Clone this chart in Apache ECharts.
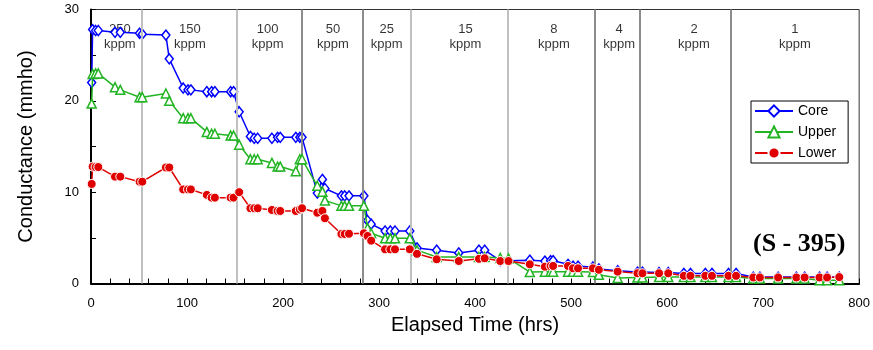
<!DOCTYPE html>
<html>
<head>
<meta charset="utf-8">
<script src="https://cdn.jsdelivr.net/npm/echarts@6/dist/echarts.min.js"></script>
<style>
  html, body { margin: 0; padding: 0; background: #fff; }
  #chart { width: 873px; height: 350px; }
</style>
</head>
<body>
<div id="chart"></div>
<script>
// sampling times shared by the three probes (hrs)
const hours = [0.7, 1.7, 4.8, 7.6, 25, 30.5, 50.6, 53.4, 78, 81.5,
    96, 101, 104, 120.6, 125.6, 129, 145.4, 148.5, 154.3, 166,
    170, 173.6, 188.4, 194.3, 197.1, 213.3, 217.5, 219.8, 235.7, 241,
    243.6, 260.8, 264.2, 268.7, 284.2, 288, 291.8, 306.3, 311.8, 316.6,
    332, 339.5, 360, 383, 404, 410, 426.2, 434.8, 457, 472.7,
    478.6, 481.3, 496.8, 502, 507.2, 522.7, 528.9, 548.5, 569.1, 574.3,
    591.6, 601.2, 617.4, 624.3, 639.8, 646.7, 663.9, 671.8, 689.7, 696.6,
    715.6, 734.6, 743.2, 758.7, 766.6, 779.3];

const core = [22.0, 27.8, 27.7, 27.7, 27.5, 27.5, 27.4, 27.3, 27.2, 24.6,
    21.4, 21.2, 21.2, 21.0, 21.0, 21.0, 21.0, 21.0, 18.8, 16.1,
    15.9, 15.9, 15.9, 16.0, 16.0, 16.0, 16.0, 16.0, 9.9, 11.4,
    10.4, 9.6, 9.6, 9.6, 9.6, 6.9, 6.5, 5.75, 5.75, 5.75,
    5.75, 3.9, 3.65, 3.35, 3.65, 3.65, 2.5, 2.5, 2.55, 2.45,
    2.5, 2.5, 2.1, 1.9, 1.9, 1.8, 1.6, 1.4, 1.25, 1.25,
    1.2, 1.2, 1.1, 1.1, 1.1, 1.1, 1.1, 1.1, 0.7, 0.7,
    0.7, 0.7, 0.7, 0.7, 0.7, 0.7];

const upper = [19.7, 22.95, 23.0, 23.0, 21.5, 21.2, 20.4, 20.4, 20.8, 20.0,
    18.1, 18.1, 18.1, 16.6, 16.4, 16.4, 16.2, 16.2, 15.2, 13.6,
    13.6, 13.6, 13.2, 12.8, 12.8, 12.3, 13.6, 13.6, 10.7, 10.05,
    9.1, 8.5, 8.5, 8.5, 8.5, 6.05, 5.5, 4.95, 4.95, 4.95,
    4.95, 3.65, 2.9, 2.9, 2.9, 2.9, 2.8, 2.75, 1.25, 1.3,
    1.3, 1.3, 1.3, 1.3, 1.3, 1.25, 0.95, 0.6, 0.65, 0.65,
    0.7, 0.7, 0.7, 0.7, 0.7, 0.7, 0.7, 0.7, 0.55, 0.55,
    0.55, 0.55, 0.55, 0.35, 0.35, 0.35];

const lower = [10.9, 12.8, 12.75, 12.75, 11.7, 11.7, 11.15, 11.15, 12.7, 12.7,
    10.3, 10.3, 10.3, 9.7, 9.4, 9.4, 9.4, 9.4, 10.0, 8.24,
    8.24, 8.24, 8.05, 7.94, 7.94, 7.94, 8.1, 8.24, 7.75, 7.94,
    7.14, 5.42, 5.42, 5.45, 5.5, 5.2, 4.69, 3.74, 3.74, 3.74,
    3.74, 3.25, 2.65, 2.46, 2.7, 2.76, 2.46, 2.46, 2.1, 1.84,
    1.92, 1.92, 1.92, 1.66, 1.66, 1.66, 1.5, 1.3, 1.12, 1.12,
    1.12, 1.12, 0.84, 0.84, 0.84, 0.84, 0.84, 0.84, 0.66, 0.66,
    0.66, 0.66, 0.66, 0.66, 0.66, 0.7];

// concentration step changes (hrs) and the labels of each stage
const stepHours = [53, 152, 220, 283, 333, 434, 525, 571, 666];
const stepDark = [false, false, true, true, false, false, true, true, true];
const stageLabels = ['250', '150', '100', '50', '25', '15', '8', '4', '2', '1'];
const stageLabelHours = [30, 103, 184, 252, 308, 390, 482, 550, 628, 733];

const pairs = vals => hours.map((h, i) => [h, vals[i]]);

const chart = echarts.init(document.getElementById('chart'));
const font = 'Liberation Sans, Arial, sans-serif';

const option = {
    animation: false,
    backgroundColor: '#fff',
    textStyle: { fontFamily: font },
    grid: {
        left: 91, right: 9, top: 9.5, bottom: 66.5,
        show: true, borderColor: '#333', borderWidth: 1
    },
    legend: {
        data: ['Core', 'Upper', 'Lower'],
        orient: 'vertical',
        left: 751, top: 101,
        itemWidth: 38, itemHeight: 14, itemGap: 7,
        padding: [3, 12, 3, 3],
        backgroundColor: '#fff',
        borderColor: '#000', borderWidth: 1,
        textStyle: { fontSize: 14, color: '#000', fontFamily: font }
    },
    xAxis: {
        type: 'value', min: 0, max: 800, interval: 100,
        name: 'Elapsed Time (hrs)', nameLocation: 'middle', nameGap: 32,
        nameTextStyle: { fontSize: 20, color: '#000', fontFamily: font },
        axisLine: { lineStyle: { color: '#000', width: 2 } },
        axisTick: { inside: true, length: 5, lineStyle: { color: '#000' } },
        minorTick: { show: true, splitNumber: 5, length: 5, lineStyle: { color: '#000' } },
        splitLine: { show: false },
        axisLabel: { fontSize: 13, color: '#000', margin: 13 }
    },
    yAxis: {
        type: 'value', min: 0, max: 30, interval: 10,
        name: 'Conductance (mmho)', nameLocation: 'middle', nameGap: 55,
        nameTextStyle: { fontSize: 20, color: '#000', fontFamily: font },
        axisLine: { show: true, lineStyle: { color: '#000', width: 2 } },
        axisTick: { show: true, inside: true, length: 5, lineStyle: { color: '#000' } },
        minorTick: { show: true, splitNumber: 2, length: 5, lineStyle: { color: '#000' } },
        splitLine: { show: false },
        axisLabel: { fontSize: 13, color: '#000', margin: 12 }
    },
    graphic: [{
        type: 'text', left: 753, top: 231, z: 100,
        style: { text: '(S - 395)', font: 'bold 26px "Liberation Serif", "Times New Roman", serif', fill: '#000' }
    }],
    series: [
        {
            name: 'steps', type: 'line', data: [], z: 1, silent: true,
            markLine: {
                silent: true, symbol: ['none', 'none'], label: { show: false },
                data: stepHours.map((h, i) => ({
                    xAxis: h,
                    lineStyle: { color: stepDark[i] ? '#8c8c8c' : '#c0c0c0', width: 2, type: 'solid' }
                }))
            }
        },
        {
            name: 'stages', type: 'scatter', z: 3, silent: true, symbolSize: 0,
            data: stageLabelHours.map((h, i) => [h, 27.05, stageLabels[i]]),
            label: {
                show: true, position: 'inside', color: '#000', fontSize: 13, lineHeight: 15,
                formatter: p => p.data[2] + '\nkppm'
            }
        },
        {
            name: 'Core', type: 'line', z: 4, data: pairs(core),
            symbol: 'diamond', symbolSize: [8, 10],
            lineStyle: { color: '#0000ff', width: 1.5 },
            itemStyle: { color: '#fff', borderColor: '#0000ff', borderWidth: 1.5 }
        },
        {
            name: 'Upper', type: 'line', z: 5, data: pairs(upper),
            symbol: 'triangle', symbolSize: 9,
            lineStyle: { color: '#22b422', width: 1.5 },
            itemStyle: { color: '#fff', borderColor: '#22b422', borderWidth: 1.5 }
        },
        {
            name: 'Lower', type: 'line', z: 6, data: pairs(lower),
            symbol: 'circle', symbolSize: 9,
            lineStyle: { color: '#e00000', width: 1.5 },
            itemStyle: { color: '#e00000', borderColor: '#fff', borderWidth: 1 }
        }
    ]
};
chart.setOption(option);
</script>
</body>
</html>
